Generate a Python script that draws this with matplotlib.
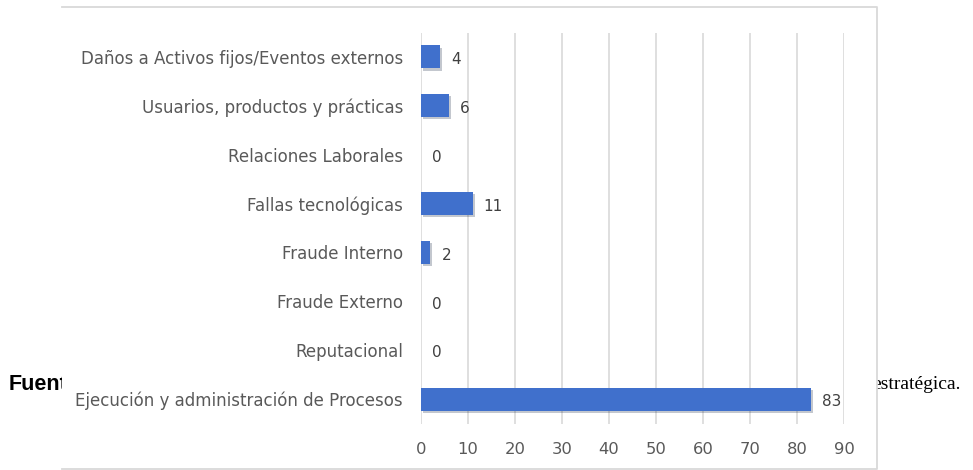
import matplotlib
matplotlib.use("Agg")
import matplotlib.pyplot as plt
import matplotlib.patheffects as pe
from matplotlib.patches import Rectangle
from matplotlib.lines import Line2D

# datos del grafico
categorias = ["Ejecución y administración de Procesos", "Reputacional", "Fraude Externo",
              "Fraude Interno", "Fallas tecnológicas", "Relaciones Laborales",
              "Usuarios, productos y prácticas", "Daños a Activos fijos/Eventos externos"]
valores = [83, 0, 0, 2, 11, 0, 6, 4]
ticks_x = [0, 10, 20, 30, 40, 50, 60, 70, 80, 90]

W, H = 973, 470
fig = plt.figure(figsize=(W / 100, H / 100), dpi=100)
fig.patch.set_facecolor("white")

# texto del documento que queda detras del grafico
t1 = fig.text(9 / W, 1 - 390 / H, "Fuente", fontsize=15.5, fontweight="bold",
              family="Liberation Sans", color="black", va="baseline")
t1.set_zorder(1)
t2 = fig.text(961 / W, 1 - 389 / H, "estratégica.", fontsize=14,
              family="Liberation Serif", color="black", ha="right", va="baseline")
t2.set_zorder(1)

# marco blanco del grafico
caja = Rectangle((62 / W, 1 - 469 / H), (877 - 62) / W, (469 - 7) / H,
                 transform=fig.transFigure, facecolor="white", edgecolor="none",
                 zorder=2)
fig.add_artist(caja)
borde = Line2D([62 / W, 877 / W, 877 / W, 62 / W],
               [1 - 7 / H, 1 - 7 / H, 1 - 469 / H, 1 - 469 / H],
               transform=fig.transFigure, color="#D9D9D9", linewidth=1.3, zorder=2.5)
fig.add_artist(borde)

ax = fig.add_axes([421 / W, 1 - 423.5 / H, (844 - 421) / W, (423.5 - 32.5) / H])
ax.set_zorder(3)
ax.patch.set_alpha(0)

pos = range(len(categorias))
barras = ax.barh(pos, valores, height=0.47, color="#4070CC", zorder=3)
for b in barras:
    b.set_path_effects([pe.SimplePatchShadow(offset=(1.5, -1.5), alpha=0.25), pe.Normal()])

for i, v in enumerate(valores):
    ax.annotate(str(v), (v, i), xytext=(8, -2), textcoords="offset points",
                ha="left", va="center", fontsize=11, color="#404040")

ax.set_xlim(0, 90)
ax.set_ylim(-0.5, len(categorias) - 0.5)
ax.set_xticks(ticks_x)
ax.set_yticks(list(pos))
ax.set_yticklabels(categorias)
ax.xaxis.grid(True, color="#D9D9D9", linewidth=1.2, zorder=0)
ax.set_axisbelow(True)
for s in ax.spines.values():
    s.set_visible(False)
ax.tick_params(axis="both", length=0, colors="#595959", labelsize=11.8)
ax.tick_params(axis="y", labelsize=12, pad=13)
ax.tick_params(axis="x", pad=13)

fig.savefig("out.png", dpi=100)
